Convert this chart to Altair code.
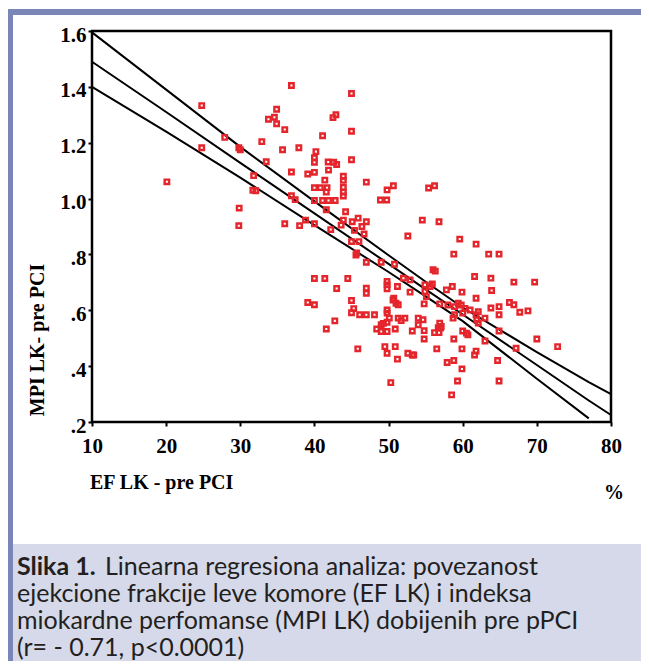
import altair as alt
import pandas as pd

# ---------------- data ----------------
ef = [36.9, 45.0, 24.8, 34.9, 34.6, 33.8, 34.9, 42.5, 42.9, 36.0, 45.0, 41.1, 27.9, 32.9,
      24.8, 29.8, 30.0, 35.7, 37.9, 40.2, 40.0, 40.0, 41.85, 42.6, 43.0, 33.5, 45.0, 41.9,
      39.1, 40.0, 36.9, 20.1, 31.8, 43.9, 43.9, 41.4, 31.7, 32.1, 40.0, 40.8, 41.7, 41.6,
      43.9, 43.9, 43.9, 36.9, 37.4, 40.0, 41.1, 41.9, 42.8, 29.85, 41.6, 44.2, 29.8, 36.0,
      38.0, 38.8, 40.0, 42.2, 43.9, 45.1, 45.9, 43.6, 45.4, 46.4,
      47.0, 50.65, 49.8, 48.9, 49.75, 55.4, 56.2, 47.0, 46.7, 54.55, 56.8, 52.6, 59.6,
      40.0, 41.4, 44.5, 43.0, 39.1, 40.0, 45.0, 45.3, 45.0, 46.1, 42.75, 41.6, 45.85,
      45.7, 45.6, 45.0, 46.0,
      61.8, 58.8, 63.5, 64.9, 47.0, 49.0, 50.8, 56.0, 56.3, 61.6, 63.8, 66.9, 69.7,
      49.8, 49.8, 49.8, 51.2, 52.0, 52.9, 47.0, 47.0, 52.9, 54.9, 55.6, 55.9, 54.9, 55.1,
      57.8, 58.6, 59.9, 63.9, 61.8, 50.7, 51.0, 51.3, 47.0, 48.1, 49.8, 49.8, 50.1, 51.3,
      52.2, 54.0, 54.65, 54.0, 56.9, 57.1, 56.7, 54.8, 56.9, 58.0, 58.9, 59.4, 59.8, 60.3,
      60.0, 61.0, 61.8, 62.1, 58.7, 58.9, 61.9, 62.1, 63.0, 63.8, 64.9, 64.9, 66.3, 66.9,
      67.7, 68.8, 48.4, 49.0, 49.8, 49.0, 49.8, 50.9, 53.2, 54.8, 56.2, 56.8, 57.0, 60.0,
      60.5, 60.7, 64.9, 54.8, 58.8, 63.0, 70.0, 72.8, 67.2, 49.5, 50.9, 49.8, 51.2, 52.6,
      53.2, 53.4, 56.5, 59.9, 61.6, 61.8, 64.7, 57.9, 58.8, 59.9, 50.3, 59.3, 64.9, 58.5,
      51.7, 49.3, 50.6]
mpi = [1.405, 1.376, 1.333, 1.320, 1.291, 1.284, 1.268, 1.290, 1.300, 1.247, 1.241, 1.225, 1.219, 1.204,
       1.182, 1.182, 1.175, 1.175, 1.182, 1.168, 1.146, 1.130, 1.131, 1.130, 1.122, 1.132, 1.139, 1.102,
       1.088, 1.094, 1.095, 1.060, 1.082, 1.080, 1.065, 1.066, 1.030, 1.028, 1.039, 1.039, 1.039, 1.023,
       1.040, 1.023, 1.009, 1.010, 0.996, 0.993, 0.993, 0.993, 0.993, 0.966, 0.960, 0.953, 0.903, 0.910,
       0.903, 0.923, 0.910, 0.889, 0.923, 0.917, 0.930, 0.905, 0.886, 0.900,
       1.059, 1.046, 1.031, 0.995, 0.995, 1.038, 1.046, 0.917, 0.873, 0.923, 0.917, 0.866, 0.855,
       0.714, 0.714, 0.714, 0.678, 0.628, 0.620, 0.635, 0.606, 0.591, 0.584, 0.562, 0.533, 0.462,
       0.805, 0.798, 0.846, 0.846,
       0.837, 0.801, 0.801, 0.801, 0.772, 0.772, 0.765, 0.745, 0.740, 0.721, 0.715, 0.701, 0.701,
       0.703, 0.691, 0.677, 0.685, 0.715, 0.709, 0.679, 0.661, 0.665, 0.691, 0.685, 0.694, 0.667, 0.649,
       0.673, 0.685, 0.665, 0.671, 0.643, 0.643, 0.625, 0.620, 0.584, 0.584, 0.601, 0.590, 0.572, 0.572,
       0.572, 0.572, 0.566, 0.548, 0.554, 0.542, 0.538, 0.623, 0.623, 0.619, 0.613, 0.625, 0.619, 0.607,
       0.590, 0.601, 0.584, 0.595, 0.572, 0.584, 0.566, 0.554, 0.572, 0.608, 0.613, 0.584, 0.628, 0.620,
       0.593, 0.598, 0.533, 0.524, 0.524, 0.548, 0.557, 0.533, 0.526, 0.527, 0.520, 0.520, 0.536, 0.526,
       0.518, 0.512, 0.526, 0.497, 0.497, 0.490, 0.497, 0.470, 0.464, 0.470, 0.470, 0.446, 0.425, 0.446,
       0.440, 0.440, 0.462, 0.462, 0.440, 0.454, 0.420, 0.413, 0.420, 0.390, 0.341, 0.347, 0.347, 0.297,
       0.563, 0.553, 0.637]

# regression line and its confidence band, read at these EF values
line_x = [10, 20, 30, 40, 50, 55, 60, 70, 77, 80]
upper = [1.595, 1.39, 1.185, 0.99, 0.797, 0.702, 0.61, 0.45, 0.343, 0.30]
middle = [1.49, 1.31, 1.128, 0.947, 0.766, 0.675, 0.585, 0.404, 0.277, 0.225]
lower_x = [10, 20, 30, 40, 50, 55, 60, 70, 77]
lower = [1.40, 1.24, 1.075, 0.905, 0.737, 0.650, 0.561, 0.355, 0.213]

x_ticks = [10, 20, 30, 40, 50, 60, 70, 80]
y_ticks = [0.2, 0.4, 0.6, 0.8, 1.0, 1.2, 1.4, 1.6]

x_title = "EF LK - pre PCI"
y_title = "MPI LK- pre PCI"
unit_label = "%"
caption_bold = "Slika 1."
caption_line1 = "Linearna regresiona analiza: povezanost"
caption_rest = [
    "ejekcione frakcije leve komore (EF LK)  i indeksa",
    "miokardne perfomanse (MPI LK) dobijenih pre pPCI",
    "(r= - 0.71, p<0.0001)",
]

# ---------------- styling ----------------
W, H = 519, 391
PAD_L, PAD_T, PAD_R, PAD_B = 84, 23, 30, 239
RED = "#E4252B"
FRAME = "#7A86B8"
CAPBG = "#D5D9E9"
SERIF = "Liberation Serif"
CAPFONT = "Lato"
CAPSIZE = 25
TXT = "#231F20"

xs = alt.Scale(domain=[10, 80], nice=False, zero=False)
ys = alt.Scale(domain=[0.2, 1.6], nice=False, zero=False)

ax_x = alt.Axis(values=x_ticks, title=None, grid=False, domain=False,
                labelFont=SERIF, labelFontWeight="bold", labelFontSize=21,
                labelColor="black", tickColor="black", tickSize=4, tickWidth=2,
                labelPadding=9, labelFlush=False, labelOverlap=False)
ax_y = alt.Axis(values=y_ticks, title=None, grid=False, domain=False,
                labelFont=SERIF, labelFontWeight="bold", labelFontSize=21,
                labelColor="black", tickColor="black", tickSize=4, tickWidth=2,
                labelPadding=2, labelOverlap=False, labelOffset=4,
                labelExpr="datum.value >= 1 ? format(datum.value, '.1f') : substring(format(datum.value, '.1f'), 1)")


def X(f):
    return alt.X(f, type="quantitative", scale=xs, axis=ax_x)


def Y(f):
    return alt.Y(f, type="quantitative", scale=ys, axis=ax_y)


one = pd.DataFrame({"k": [0]})

cap_bg = alt.Chart(one).mark_rect(color=CAPBG).encode(
    x=alt.value(-80), x2=alt.value(W + PAD_R), y=alt.value(513), y2=alt.value(H + PAD_B))
top_bar = alt.Chart(one).mark_rect(color=FRAME).encode(
    x=alt.value(-PAD_L), x2=alt.value(W + PAD_R), y=alt.value(-22), y2=alt.value(-16))
left_bar = alt.Chart(one).mark_rect(color=FRAME).encode(
    x=alt.value(-PAD_L), x2=alt.value(-79), y=alt.value(-22), y2=alt.value(H + PAD_B))

df_pts = pd.DataFrame({"ef": ef, "mpi": mpi})
points = alt.Chart(df_pts).mark_square(filled=False, color=RED, strokeWidth=2.4,
                                       size=20, opacity=1).encode(x=X("ef"), y=Y("mpi"))

rows = []
for b, xsv, ysv in (("upper", line_x, upper), ("middle", line_x, middle), ("lower", lower_x, lower)):
    for a, v in zip(xsv, ysv):
        rows.append({"ef": a, "mpi": v, "band": b})
df_lines = pd.DataFrame(rows)
lines = alt.Chart(df_lines).mark_line(color="black", strokeWidth=2).encode(
    x=X("ef"), y=Y("mpi"), detail="band:N")


def label(text, x, y, font=SERIF, size=20, weight="bold", angle=0, align="left",
          color="black", baseline="middle"):
    return alt.Chart(one).mark_text(text=text, font=font, fontSize=size, fontWeight=weight,
                                    angle=angle, align=align, baseline=baseline,
                                    color=color).encode(x=alt.value(x), y=alt.value(y))


texts = [
    label(y_title, -54, 309, angle=270, align="center"),
    label(x_title, -2, 452),
    label(unit_label, 522, 462, align="center"),
    label(caption_bold, -75, 544, font=CAPFONT, size=CAPSIZE, weight="bold",
          color=TXT, baseline="alphabetic"),
    label(caption_line1, 13, 544, font=CAPFONT, size=CAPSIZE, weight="normal",
          color=TXT, baseline="alphabetic"),
]
for i, t in enumerate(caption_rest):
    texts.append(label(t, -75, 571 + 27 * i, font=CAPFONT, size=CAPSIZE, weight="normal",
                       color=TXT, baseline="alphabetic"))

chart = alt.layer(cap_bg, top_bar, left_bar, lines, points, *texts).properties(
    width=W, height=H,
    padding={"left": PAD_L, "top": PAD_T, "right": PAD_R, "bottom": PAD_B},
    autosize=alt.AutoSizeParams(type="none"),
).configure_view(stroke="black", strokeWidth=2.5)

chart.save("out.html", embed_options={"renderer": "svg", "actions": False})
